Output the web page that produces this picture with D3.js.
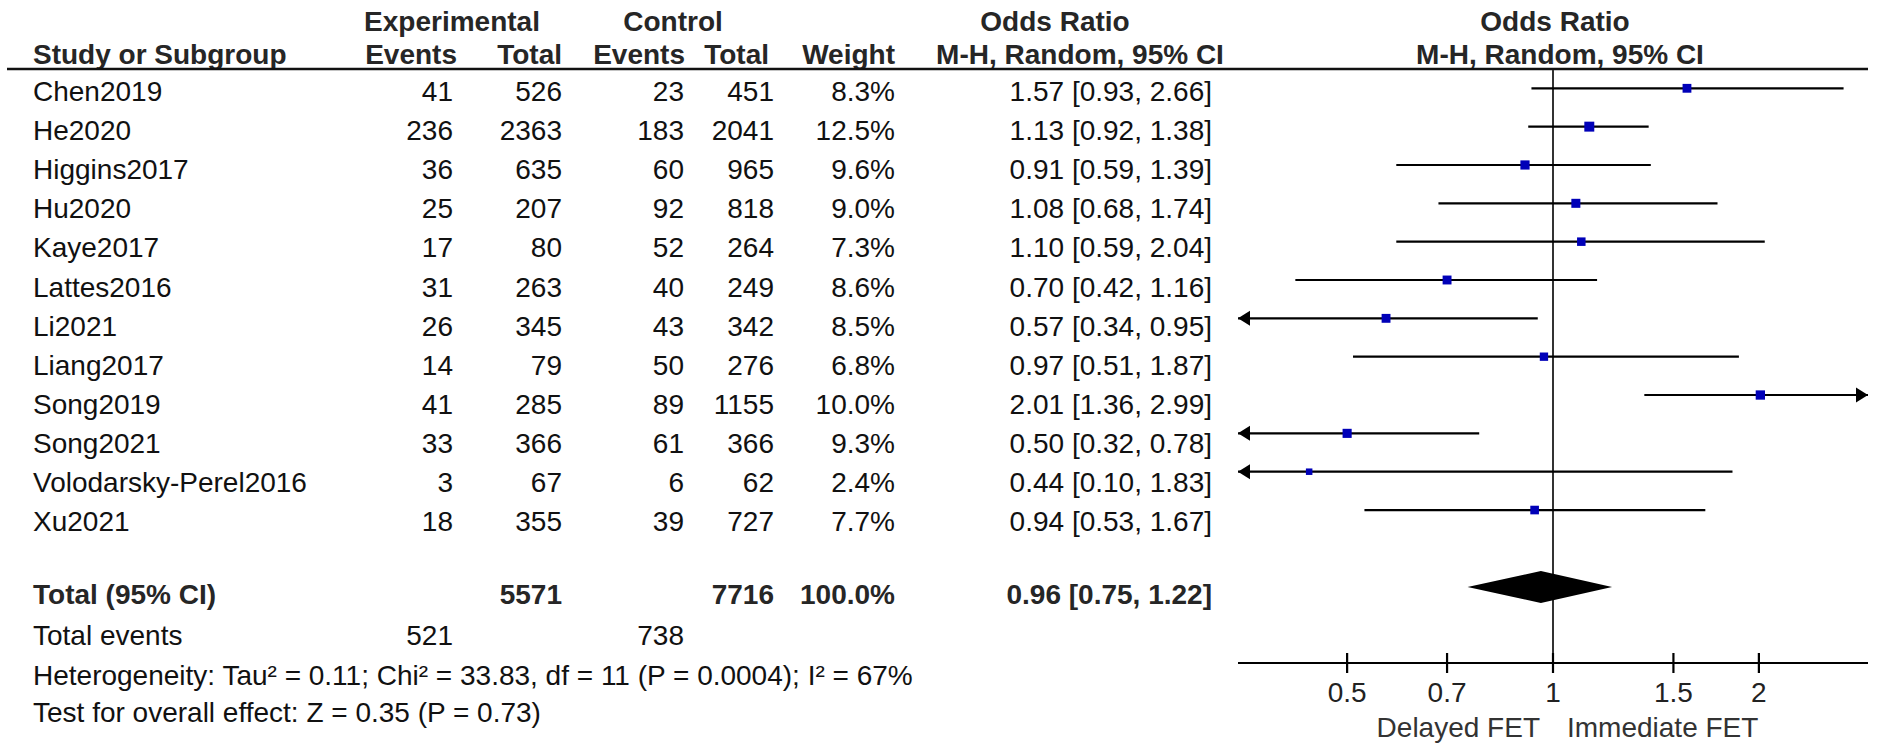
<!DOCTYPE html>
<html><head><meta charset="utf-8">
<script src="https://cdn.jsdelivr.net/npm/d3@7"></script>
<style>
html,body{margin:0;padding:0;background:#fff;}
svg{display:block;font-family:"Liberation Sans",Arial,sans-serif;}
</style></head>
<body>
<script>
const studies = ["Chen2019","He2020","Higgins2017","Hu2020","Kaye2017","Lattes2016","Li2021","Liang2017","Song2019","Song2021","Volodarsky-Perel2016","Xu2021"];
const expEvents = [41,236,36,25,17,31,26,14,41,33,3,18];
const expTotal = [526,2363,635,207,80,263,345,79,285,366,67,355];
const ctrlEvents = [23,183,60,92,52,40,43,50,89,61,6,39];
const ctrlTotal = [451,2041,965,818,264,249,342,276,1155,366,62,727];
const weights = [8.3,12.5,9.6,9.0,7.3,8.6,8.5,6.8,10.0,9.3,2.4,7.7];
const orVals = [1.57,1.13,0.91,1.08,1.10,0.70,0.57,0.97,2.01,0.50,0.44,0.94];
const ciLow = [0.93,0.92,0.59,0.68,0.59,0.42,0.34,0.51,1.36,0.32,0.10,0.53];
const ciHigh = [2.66,1.38,1.39,1.74,2.04,1.16,0.95,1.87,2.99,0.78,1.83,1.67];
const totalExpN = 5571, totalCtrlN = 7716, totalWeight = 100.0;
const totalOR = 0.96, totalLow = 0.75, totalHigh = 1.22;
const totalExpEvents = 521, totalCtrlEvents = 738;
const heterogeneityText = "Heterogeneity: Tau² = 0.11; Chi² = 33.83, df = 11 (P = 0.0004); I² = 67%";
const overallText = "Test for overall effect: Z = 0.35 (P = 0.73)";
const tickValues = [0.5,0.7,1,1.5,2];
const tickLabels = ["0.5","0.7","1","1.5","2"];
const favourLeft = "Delayed FET", favourRight = "Immediate FET";

const W = 1902, H = 752, FS = 28;
const svg = d3.select("body").append("svg").attr("width",W).attr("height",H);

const xMax = 2.888;
const x = d3.scaleLog().domain([1/xMax, xMax]).range([1238, 1868]);
const yText = d3.scalePoint().domain(studies).range([101, 101 + 11*39.1]);
const yPlot = d3.scalePoint().domain(studies).range([88.3, 88.3 + 11*38.34]);
const totalY = 587;
const f2 = d3.format(".2f");
const ink = "#111", boldInk = "#262626";

// column right edges
const col = {expE:453, expT:562, ctlE:684, ctlT:774, wt:895, or:1212};

function txt(xp, yp, s, anchor, bold, fill){
  return svg.append("text").attr("x",xp).attr("y",yp).attr("text-anchor",anchor||"start")
    .attr("font-size",FS).attr("font-weight",bold?"bold":"normal").attr("fill",fill||(bold?boldInk:ink)).text(s);
}

// headers
txt(452, 31, "Experimental", "middle", true);
txt(673, 31, "Control", "middle", true);
txt(1055, 31, "Odds Ratio", "middle", true);
txt(1555, 31, "Odds Ratio", "middle", true);
txt(33, 64, "Study or Subgroup", "start", true);
txt(col.expE+4, 64, "Events", "end", true);
txt(col.expT, 64, "Total", "end", true);
txt(col.ctlE+1, 64, "Events", "end", true);
txt(col.ctlT-5, 64, "Total", "end", true);
txt(col.wt, 64, "Weight", "end", true);
txt(1080, 64, "M-H, Random, 95% CI", "middle", true);
txt(1560, 64, "M-H, Random, 95% CI", "middle", true);
svg.append("line").attr("x1",7).attr("x2",1868).attr("y1",69).attr("y2",69)
  .attr("stroke","#111").attr("stroke-width",2.4);

// rows
studies.forEach((s,i)=>{
  const yy = yText(s);
  txt(33, yy, s);
  txt(col.expE, yy, expEvents[i], "end");
  txt(col.expT, yy, expTotal[i], "end");
  txt(col.ctlE, yy, ctrlEvents[i], "end");
  txt(col.ctlT, yy, ctrlTotal[i], "end");
  txt(col.wt, yy, weights[i].toFixed(1)+"%", "end");
  txt(col.or, yy, `${f2(orVals[i])} [${f2(ciLow[i])}, ${f2(ciHigh[i])}]`, "end");
});

// total rows
txt(33, 604, "Total (95% CI)", "start", true);
txt(col.expT, 604, totalExpN, "end", true);
txt(col.ctlT, 604, totalCtrlN, "end", true);
txt(col.wt, 604, totalWeight.toFixed(1)+"%", "end", true);
txt(col.or, 604, `${f2(totalOR)} [${f2(totalLow)}, ${f2(totalHigh)}]`, "end", true);
txt(33, 645, "Total events");
txt(col.expE, 645, totalExpEvents, "end");
txt(col.ctlE, 645, totalCtrlEvents, "end");
txt(33, 685, heterogeneityText);
txt(33, 722, overallText);

// plot
const [r0, r1] = x.range();
const [d0, d1] = x.domain();
svg.append("line").attr("x1",x(1)).attr("x2",x(1)).attr("y1",70).attr("y2",663)
  .attr("stroke","#333").attr("stroke-width",2);

const g = svg.append("g");
studies.forEach((s,i)=>{
  const yy = yPlot(s);
  const lo = Math.max(ciLow[i], d0), hi = Math.min(ciHigh[i], d1);
  g.append("line").attr("x1",x(lo)).attr("x2",x(hi)).attr("y1",yy).attr("y2",yy)
    .attr("stroke","#000").attr("stroke-width",2.2);
  if (ciLow[i] < d0) {
    g.append("path").attr("d",`M${r0},${yy} l12,-7.5 l0,15 z`).attr("fill","#000");
  }
  if (ciHigh[i] > d1) {
    g.append("path").attr("d",`M${r1},${yy} l-12,-7.5 l0,15 z`).attr("fill","#000");
  }
  const side = 3.8 + 1.74*Math.sqrt(weights[i]);
  g.append("rect").attr("x",x(orVals[i])-side/2).attr("y",yy-side/2)
    .attr("width",side).attr("height",side).attr("fill","#0000b8");
});

// diamond
svg.append("path")
  .attr("d",`M${x(totalLow)},${totalY} L${x(totalOR)},${totalY-16} L${x(totalHigh)},${totalY} L${x(totalOR)},${totalY+16} Z`)
  .attr("fill","#000");

// axis
const axisY = 663;
svg.append("line").attr("x1",r0).attr("x2",r1).attr("y1",axisY).attr("y2",axisY)
  .attr("stroke","#000").attr("stroke-width",2.2);
tickValues.forEach((t,i)=>{
  svg.append("line").attr("x1",x(t)).attr("x2",x(t)).attr("y1",axisY-10).attr("y2",axisY+10)
    .attr("stroke","#000").attr("stroke-width",2.2);
  txt(x(t), 702, tickLabels[i], "middle", false, "#222");
});
txt(x(1)-13, 737, favourLeft, "end", false, "#333");
txt(x(1)+14, 737, favourRight, "start", false, "#333");
</script>
</body></html>
